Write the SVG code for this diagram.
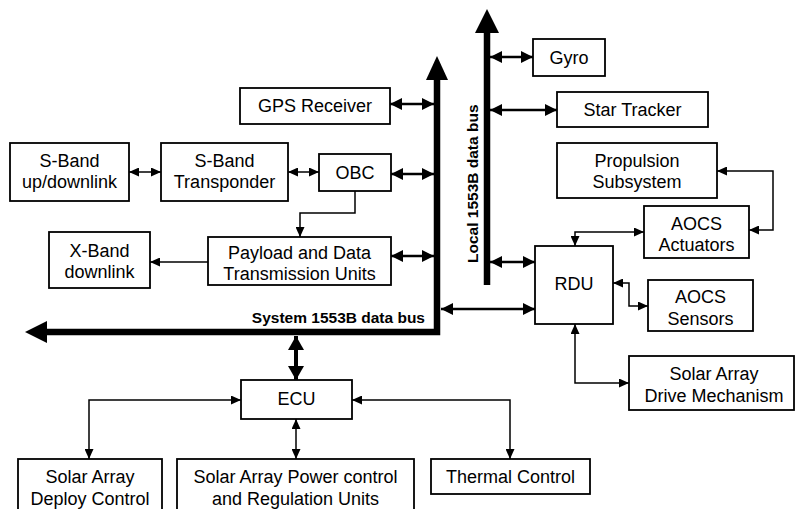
<svg xmlns="http://www.w3.org/2000/svg" width="795" height="509" viewBox="0 0 795 509">
<style>
.box{fill:#fff;stroke:#000;stroke-width:1.8}
.t{font-family:"Liberation Sans",Arial,sans-serif;font-size:18px;fill:#000;text-anchor:middle}
.bl{font-family:"Liberation Sans",Arial,sans-serif;font-size:15.5px;font-weight:bold;fill:#000}
.c{fill:none;stroke:#000;stroke-width:1.5}
.cb{fill:none;stroke:#000;stroke-width:2.6}
.bus{fill:none;stroke:#000;stroke-width:6.5}
</style>
<defs>
<marker id="a" markerUnits="userSpaceOnUse" markerWidth="10" markerHeight="9" refX="10" refY="4.5" orient="auto-start-reverse"><path d="M0,0 L10,4.5 L0,9 z" fill="#000"/></marker>
<marker id="b" markerUnits="userSpaceOnUse" markerWidth="12" markerHeight="12" refX="12" refY="6" orient="auto-start-reverse"><path d="M0,0 L12,6 L0,12 z" fill="#000"/></marker>
<marker id="c" markerUnits="userSpaceOnUse" markerWidth="14" markerHeight="16" refX="14" refY="8" orient="auto-start-reverse"><path d="M0,0 L14,8 L0,16 z" fill="#000"/></marker>
</defs>
<rect width="795" height="509" fill="#fff"/>

<g id="connectors">
<!-- system bus -->
<path class="bus" d="M437,78 V332 H45"/>
<polygon points="437,56 448,80 426,80" fill="#000"/>
<polygon points="25,332 47,321 47,343" fill="#000"/>
<!-- local bus -->
<path class="bus" d="M487,30 V285"/>
<polygon points="487,9 499,33 475,33" fill="#000"/>
<text class="bl" transform="translate(478,263) rotate(-90)">Local 1553B data bus</text>
<text class="bl" x="425" y="323" text-anchor="end">System 1553B data bus</text>

<path class="c" d="M129,172 H161" marker-start="url(#a)" marker-end="url(#a)"/>
<path class="c" d="M288,172 H319" marker-start="url(#a)" marker-end="url(#a)"/>
<path class="c" d="M355,191 V213 H300 V237" marker-end="url(#a)"/>
<path class="c" d="M208,262 H150" marker-end="url(#a)"/>
<path class="cb" d="M390,104 H434" marker-start="url(#b)" marker-end="url(#b)"/>
<path class="cb" d="M391,174 H434" marker-start="url(#b)" marker-end="url(#b)"/>
<path class="cb" d="M391,256 H434" marker-start="url(#b)" marker-end="url(#b)"/>
<path class="cb" d="M441,309 H535" marker-start="url(#b)" marker-end="url(#b)"/>
<path class="cb" d="M490,57 H533" marker-start="url(#b)" marker-end="url(#b)"/>
<path class="cb" d="M490,110 H557" marker-start="url(#b)" marker-end="url(#b)"/>
<path class="cb" d="M490,262 H535" marker-start="url(#b)" marker-end="url(#b)"/>
<path d="M296,336 V380" fill="none" stroke="#000" stroke-width="4" marker-start="url(#c)" marker-end="url(#c)"/>
<path class="c" d="M241,400 H89 V459" marker-start="url(#a)" marker-end="url(#a)"/>
<path class="c" d="M296,419 V459" marker-start="url(#a)" marker-end="url(#a)"/>
<path class="c" d="M352,400 H510 V459" marker-start="url(#a)" marker-end="url(#a)"/>
<path class="c" d="M575,246 V232 H644" marker-start="url(#a)" marker-end="url(#a)"/>
<path class="c" d="M717,171 H773 V230 H749" marker-start="url(#a)" marker-end="url(#a)"/>
<path class="c" d="M613,283 H629 V306 H648" marker-start="url(#a)" marker-end="url(#a)"/>
<path class="c" d="M575,324 V383 H629" marker-start="url(#a)" marker-end="url(#a)"/>
</g>

<g id="gps"><rect class="box" x="240" y="88" width="150" height="36"/><text class="t" x="315" y="112">GPS Receiver</text></g>
<g id="sband-link"><rect class="box" x="10" y="143" width="119" height="58"/><text class="t" x="69.5" y="167">S-Band</text><text class="t" x="69.5" y="188">up/downlink</text></g>
<g id="sband-transponder"><rect class="box" x="161" y="143" width="127" height="58"/><text class="t" x="224.5" y="167">S-Band</text><text class="t" x="224.5" y="188">Transponder</text></g>
<g id="obc"><rect class="box" x="319" y="154" width="72" height="37"/><text class="t" x="355" y="179">OBC</text></g>
<g id="xband"><rect class="box" x="49" y="232" width="101" height="56"/><text class="t" x="99.5" y="257">X-Band</text><text class="t" x="99.5" y="278">downlink</text></g>
<g id="payload"><rect class="box" x="208" y="237" width="183" height="48"/><text class="t" x="299.5" y="259">Payload and Data</text><text class="t" x="299.5" y="280">Transmission Units</text></g>
<g id="gyro"><rect class="box" x="533" y="39" width="72" height="37"/><text class="t" x="569" y="64">Gyro</text></g>
<g id="star-tracker"><rect class="box" x="557" y="92" width="151" height="35"/><text class="t" x="632.5" y="116">Star Tracker</text></g>
<g id="propulsion"><rect class="box" x="557" y="143" width="160" height="55"/><text class="t" x="637" y="167">Propulsion</text><text class="t" x="637" y="188">Subsystem</text></g>
<g id="aocs-actuators"><rect class="box" x="644" y="206" width="105" height="52"/><text class="t" x="696.5" y="230">AOCS</text><text class="t" x="696.5" y="251">Actuators</text></g>
<g id="rdu"><rect class="box" x="535" y="246" width="78" height="78"/><text class="t" x="574" y="290">RDU</text></g>
<g id="aocs-sensors"><rect class="box" x="648" y="280" width="105" height="51"/><text class="t" x="700.5" y="303">AOCS</text><text class="t" x="700.5" y="325">Sensors</text></g>
<g id="sadm"><rect class="box" x="629" y="356" width="165" height="54"/><text class="t" x="714" y="380">Solar Array</text><text class="t" x="714" y="402">Drive Mechanism</text></g>
<g id="ecu"><rect class="box" x="241" y="380" width="111" height="39"/><text class="t" x="296.5" y="405">ECU</text></g>
<g id="sa-deploy"><rect class="box" x="18" y="459" width="144" height="56"/><text class="t" x="90" y="483">Solar Array</text><text class="t" x="90" y="505">Deploy Control</text></g>
<g id="sa-power"><rect class="box" x="177" y="459" width="237" height="56"/><text class="t" x="295.5" y="483">Solar Array Power control</text><text class="t" x="295.5" y="505">and Regulation Units</text></g>
<g id="thermal"><rect class="box" x="431" y="459" width="159" height="35"/><text class="t" x="510.5" y="483">Thermal Control</text></g>
</svg>
